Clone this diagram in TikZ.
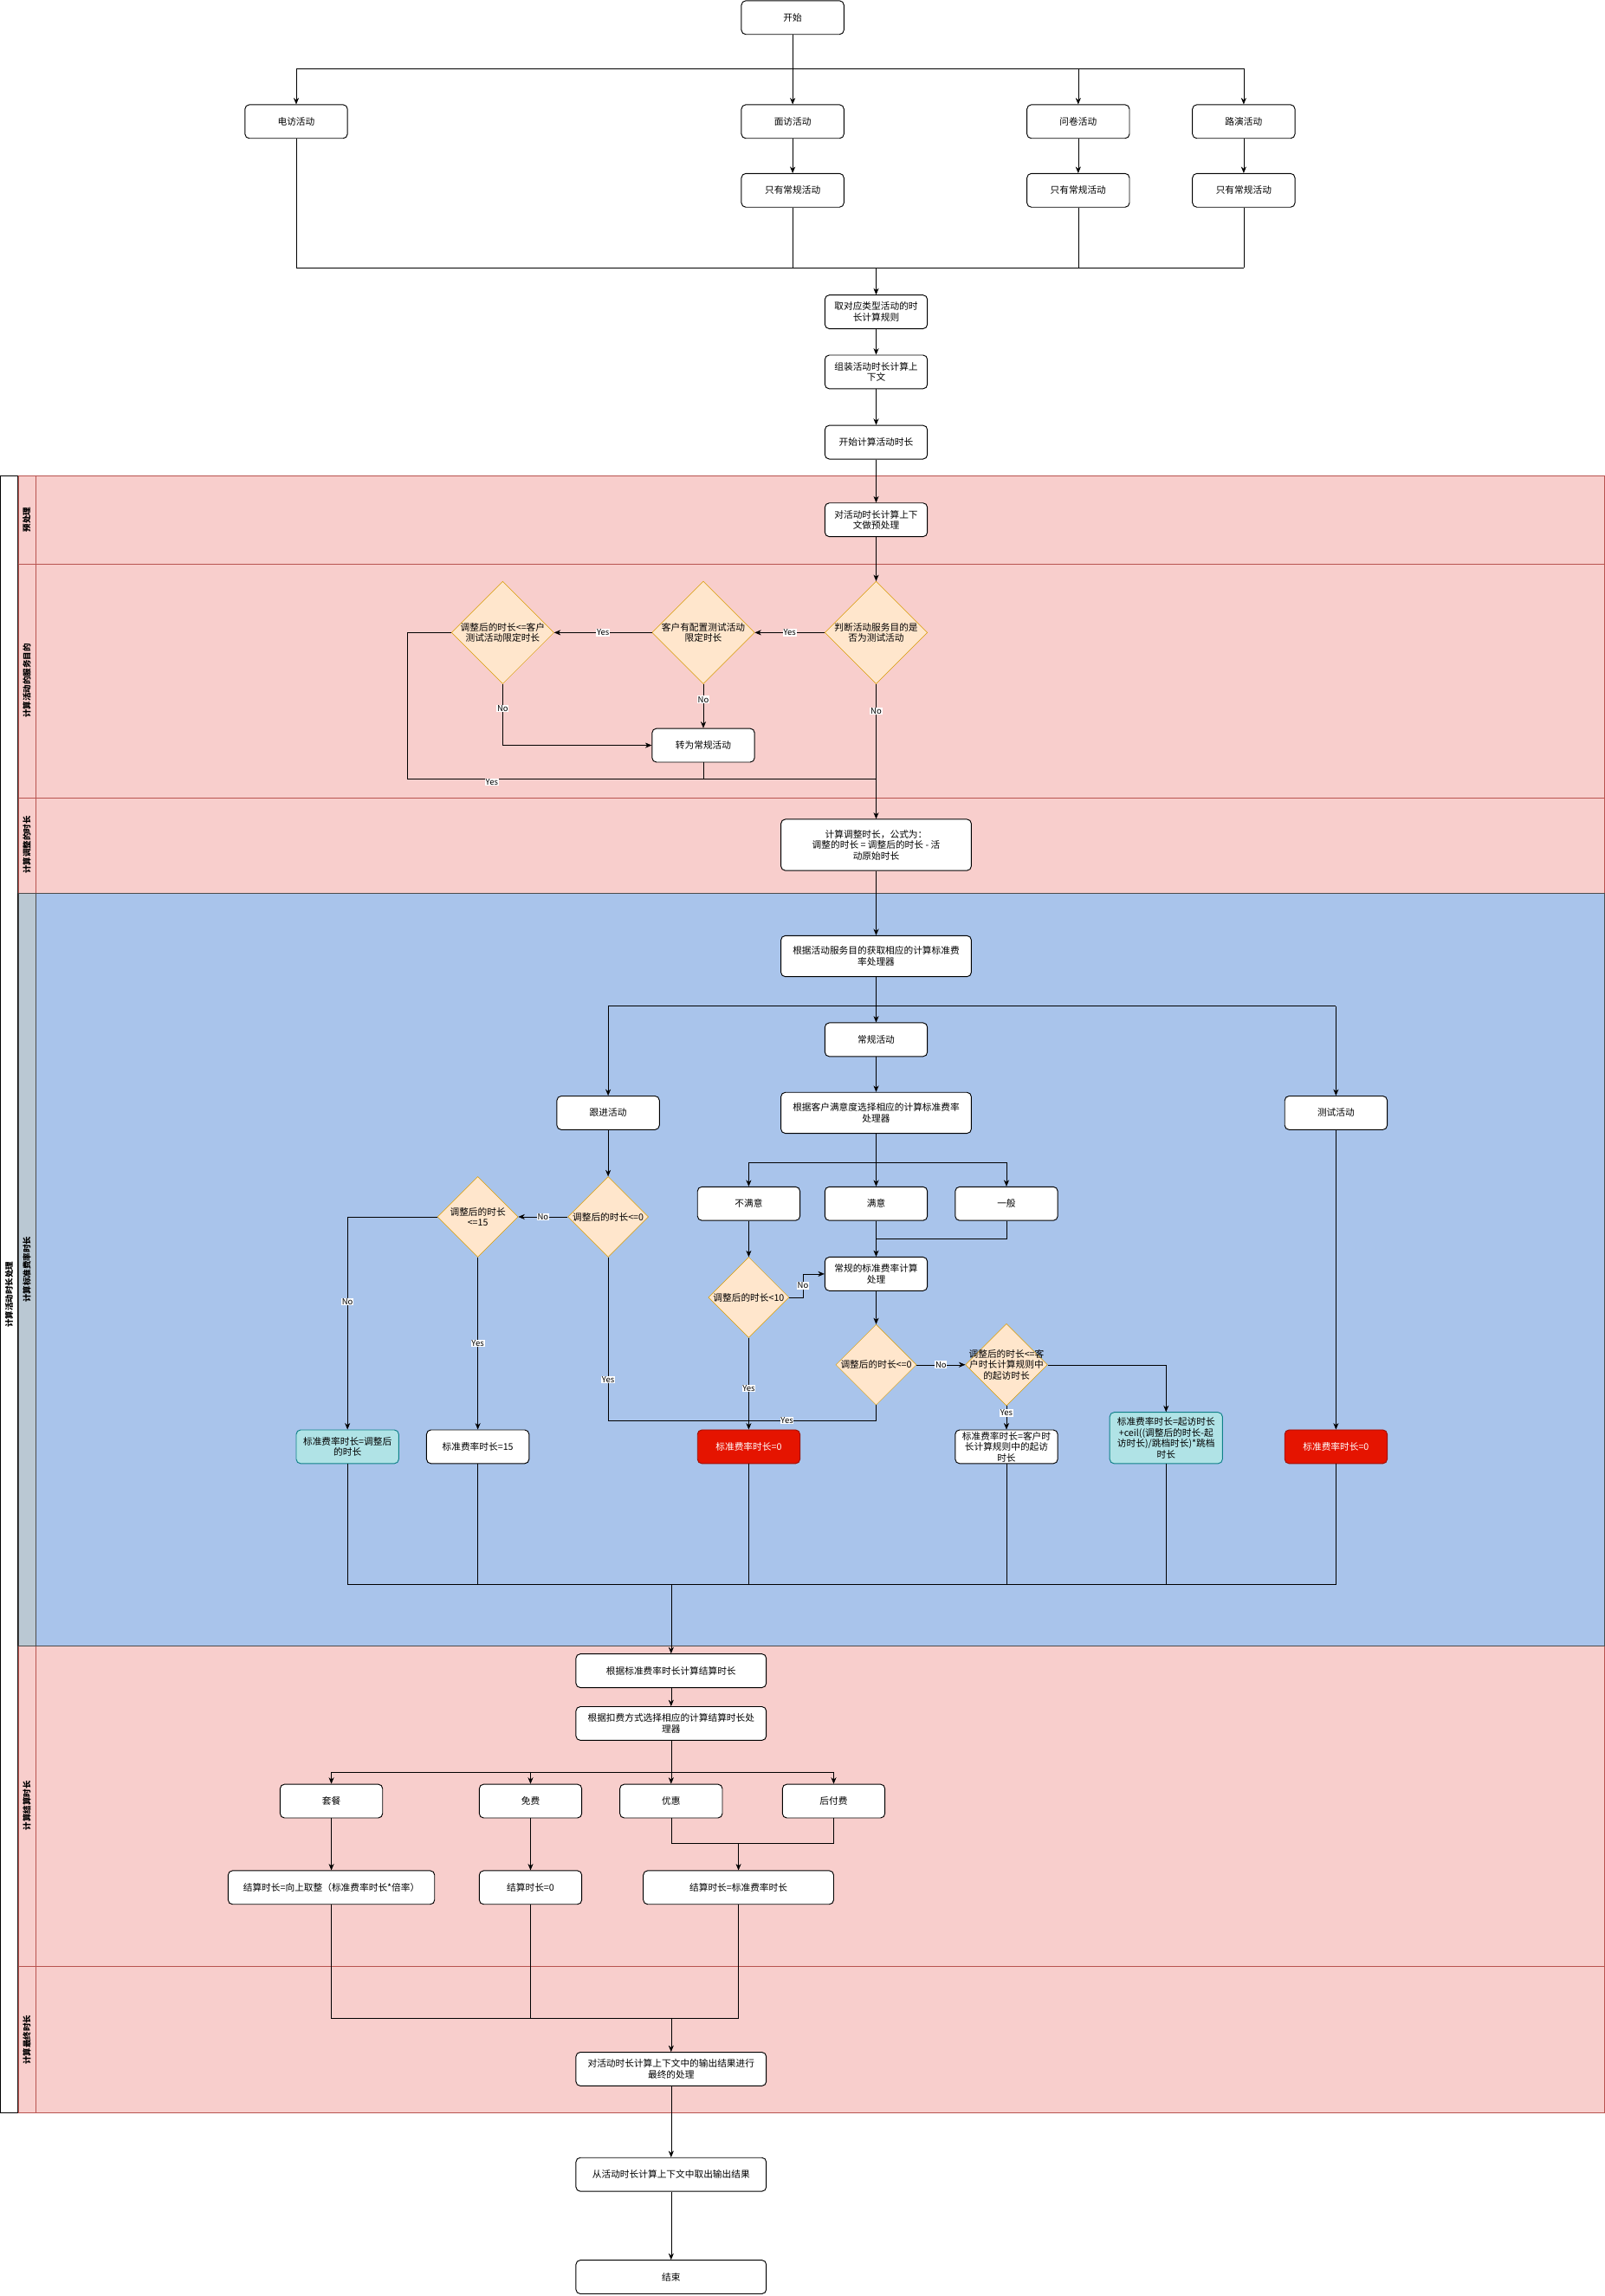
\documentclass[tikz,border=0pt]{standalone}
\usepackage{fontspec}
\setmainfont{Noto Sans CJK SC}
\usetikzlibrary{shapes.geometric,arrows.meta}
\definecolor{lanepink}{HTML}{F8CECC}
\definecolor{laneline}{HTML}{B85450}
\definecolor{laneblue}{HTML}{A9C4EB}
\definecolor{lanegray}{HTML}{BAC8D3}
\definecolor{decfill}{HTML}{FFE6CC}
\definecolor{decline}{HTML}{D79B00}
\definecolor{zerofill}{HTML}{E51400}
\definecolor{cyanfill}{HTML}{B0E3E6}
\definecolor{cyanline}{HTML}{0E8088}
\begin{document}
\begin{tikzpicture}
  [x=0.5mm,y=-0.5mm,font=\fontsize{9}{10.5}\selectfont,
   every label/.style={align=center, inner sep=0pt}]
  \tikzstyle{box} = [draw=black, fill=white, rounded corners=1.5mm, align=center, minimum width=35mm, minimum height=11.5mm, inner sep=1pt, thick]
  \tikzstyle{wide} = [box, minimum width=65mm]
  \tikzstyle{dec} = [diamond, aspect=1, draw=decline, fill=decfill, minimum size=#1, inner sep=0pt]
  \tikzstyle{zero} = [box, fill=zerofill, draw=zerofill!70!black, text=white]
  \tikzstyle{teal} = [box, fill=cyanfill, draw=cyanline]
  \tikzstyle{arr} = [draw=black, -{Stealth[length=2.2mm,width=1.8mm]}]
  \tikzstyle{yn} = [fill=white, inner sep=0.6pt, font=\fontsize{8}{9}\selectfont]
  \tikzstyle{lanetext} = [rotate=90, font=\fontsize{8}{9}\selectfont\bfseries]
  % page and lanes
  \fill[white] (0,0) rectangle (1095,1568);
  \draw[thick] (0,325) rectangle (12,1443);
  \node[lanetext] (t0) at (6,884) {计算活动时长处理};
  \foreach \ya/\yb in {325/385, 385/545, 545/610, 1124/1343, 1343/1443}
    \draw[laneline, fill=lanepink] (12,\ya) rectangle (1095,\yb) (24,\ya) -- (24,\yb);
  \draw[black!70, fill=laneblue] (12,610) rectangle (1095,1124);
  \draw[black!70, fill=lanegray] (12,610) rectangle (24,1124);
  \node[lanetext] (t1) at (18,355) {预处理};
  \node[lanetext] (t2) at (18,465) {计算活动的服务目的};
  \node[lanetext] (t3) at (18,577) {计算调整的时长};
  \node[lanetext] (t4) at (18,867) {计算标准费率时长};
  \node[lanetext] (t5) at (18,1233) {计算结算时长};
  \node[lanetext] (t6) at (18,1393) {计算最终时长};
  % top part
  \node[box] (start) at (541,12) {开始};
  \node[box] (phone) at (202,83) {电访活动};
  \node[box] (face) at (541,83) {面访活动};
  \node[box] (quest) at (736,83) {问卷活动};
  \node[box] (road) at (849,83) {路演活动};
  \node[box] (only1) at (541,130) {只有常规活动};
  \node[box] (only2) at (736,130) {只有常规活动};
  \node[box] (only3) at (849,130) {只有常规活动};
  \node[box] (rule) at (598,213) {取对应类型活动的时\\长计算规则};
  \node[box] (ctx) at (598,254) {组装活动时长计算上\\下文};
  \node[box] (begin) at (598,302) {开始计算活动时长};
  \coordinate (s1) at (202,47);
  \coordinate (s2) at (849,47);
  \coordinate (m1) at (202,183);
  \coordinate (m2) at (849,183);
  \draw (start) -- (start |- s1);
  \draw (s1) -- (s2);
  \foreach \n in {phone,face,quest,road}
    \draw[arr] (\n |- s1) -- (\n);
  \draw[arr] (face) -- (only1);
  \draw[arr] (quest) -- (only2);
  \draw[arr] (road) -- (only3);
  \draw (phone) -- (m1) -- (m2);
  \foreach \n in {only1,only2,only3}
    \draw (\n) -- (\n |- m1);
  \draw[arr] (rule |- m1) -- (rule);
  \draw[arr] (rule) -- (ctx);
  \draw[arr] (ctx) -- (begin);
  % service purpose
  \node[box] (pre) at (598,355) {对活动时长计算上下\\文做预处理};
  \node[dec=35mm, label=center:{判断活动服务目的是\\否为测试活动}] (istest) at (598,432) {};
  \node[dec=35mm, label=center:{客户有配置测试活动\\限定时长}] (hascfg) at (480,432) {};
  \node[dec=35mm, label=center:{调整后的时长<=客户\\测试活动限定时长}] (inlimit) at (343,432) {};
  \node[box] (toreg) at (480,509) {转为常规活动};
  \node[wide, minimum height=17.5mm] (adj) at (598,577) {计算调整时长，公式为：\\\textit{调整的时长 = 调整后的时长 - 活}\\\textit{动原始时长}};
  \coordinate (y1) at (278,432);
  \coordinate (y2) at (278,532);
  \draw[arr] (begin) -- (pre);
  \draw[arr] (pre) -- (istest);
  \draw[arr] (istest) -- node[yn] {Yes} (hascfg);
  \draw[arr] (hascfg) -- node[yn] {Yes} (inlimit);
  \draw[arr] (hascfg) -- node[yn, pos=0.35] {No} (toreg);
  \draw[arr] (inlimit.south) |- node[yn, pos=0.2] {No} (toreg);
  \draw[arr] (istest) -- node[yn, pos=0.2] {No} (adj);
  \draw (inlimit.west) -- (y1) -- (y2) -- node[yn, pos=0.18, below=-1pt] {Yes} (adj |- y2);
  \draw (toreg) -- (toreg |- y2);
  % standard rate
  \node[wide, minimum height=14mm] (getproc) at (598,653) {根据活动服务目的获取相应的计算标准费\\率处理器};
  \node[box] (reg) at (598,710) {常规活动};
  \node[box] (follow) at (415,760) {跟进活动};
  \node[box] (testact) at (912,760) {测试活动};
  \node[wide, minimum height=14mm] (satproc) at (598,760) {根据客户满意度选择相应的计算标准费率\\处理器};
  \node[box] (unsat) at (511,822) {不满意};
  \node[box] (sat) at (598,822) {满意};
  \node[box] (normal) at (687,822) {一般};
  \node[box] (regcalc) at (598,870) {常规的标准费率计算\\处理};
  \node[dec=27.5mm, label=center:{调整后的时长<10}] (lt10) at (511,886) {};
  \node[dec=27.5mm, label=center:{调整后的时长<=0}] (le0a) at (598,932) {};
  \node[dec=28mm, label=center:{调整后的时长<=客\\户时长计算规则中\\的起访时长}] (lestart) at (687,932) {};
  \node[dec=27.5mm, label=center:{调整后的时长<=0}] (le0b) at (415,831) {};
  \node[dec=27.5mm, label=center:{调整后的时长\\<=15}] (le15) at (326,831) {};
  \node[teal] (rateadj) at (237,988) {标准费率时长=调整后\\的时长};
  \node[box] (rate15) at (326,988) {标准费率时长=15};
  \node[zero] (rate0a) at (511,988) {标准费率时长=0};
  \node[box, minimum height=11.5mm] (ratestart) at (687,988) {标准费率时长=客户时\\长计算规则中的起访\\时长};
  \node[teal, minimum width=38.5mm, minimum height=17.5mm] (rateceil) at (796,982) {标准费率时长=起访时长\\+ceil((调整后的时长-起\\访时长)/跳档时长)*跳档\\时长};
  \node[zero] (rate0b) at (912,988) {标准费率时长=0};
  \coordinate (p1) at (415,687);
  \coordinate (p2) at (912,687);
  \coordinate (q1) at (511,794);
  \coordinate (q2) at (687,794);
  \coordinate (z1) at (415,970);
  \coordinate (k1) at (548,870);
  \coordinate (g1) at (237,1082);
  \coordinate (g2) at (912,1082);
  \draw[arr] (adj) -- (getproc);
  \draw (p1) -- (p2);
  \draw[arr] (getproc) -- (reg);
  \draw[arr] (p1) -- (follow);
  \draw[arr] (p2) -- (testact);
  \draw[arr] (reg) -- (satproc);
  \draw (q1) -- (q2);
  \draw[arr] (satproc) -- (sat);
  \draw[arr] (q1) -- (unsat);
  \draw[arr] (q2) -- (normal);
  \draw[arr] (sat) -- (regcalc);
  \draw (normal) |- (sat |- 0,846);
  \draw[arr] (unsat) -- (lt10);
  \draw[arr] (lt10.east) -| node[yn, pos=0.75] {No} (k1) -- (regcalc);
  \draw[arr] (lt10) -- node[yn, pos=0.55] {Yes} (rate0a);
  \draw[arr] (regcalc) -- (le0a);
  \draw (le0a.south) |- node[yn, pos=0.85] {Yes} (rate0a |- z1);
  \draw[arr] (le0a) -- node[yn] {No} (lestart);
  \draw[arr] (lestart) -- node[yn, pos=0.3] {Yes} (ratestart);
  \draw[arr] (lestart.east) -| (rateceil);
  \draw[arr] (testact) -- (rate0b);
  \draw[arr] (follow) -- (le0b);
  \draw[arr] (le0b) -- node[yn] {No} (le15);
  \draw (le0b.south) -- node[yn, pos=0.75] {Yes} (z1) -- (rate0a |- z1);
  \draw[arr] (le15.west) -| node[yn, pos=0.7] {No} (rateadj);
  \draw[arr] (le15) -- node[yn] {Yes} (rate15);
  \draw (rateadj) -- (g1) -- (g2) -- (rate0b);
  \foreach \n in {rate15,rate0a,ratestart}
    \draw (\n) -- (\n |- g1);
  \draw (rateceil.south) -- (rateceil.south |- g1);
  % settlement
  \node[wide] (settle) at (458,1141) {根据标准费率时长计算结算时长};
  \node[wide] (payproc) at (458,1177) {根据扣费方式选择相应的计算结算时长处\\理器};
  \node[box] (pkg) at (226,1230) {套餐};
  \node[box] (free) at (362,1230) {免费};
  \node[box] (promo) at (458,1230) {优惠};
  \node[box] (post) at (569,1230) {后付费};
  \node[box, minimum width=70.5mm] (resceil) at (226,1289) {结算时长=向上取整（标准费率时长*倍率）};
  \node[box] (reszero) at (362,1289) {结算时长=0};
  \node[wide] (resstd) at (504,1289) {结算时长=标准费率时长};
  \node[wide] (final) at (458,1413) {对活动时长计算上下文中的输出结果进行\\最终的处理};
  \node[wide] (fetch) at (458,1485) {从活动时长计算上下文中取出输出结果};
  \node[wide] (stop) at (458,1555) {结束};
  \coordinate (r1) at (226,1210);
  \coordinate (r2) at (569,1210);
  \coordinate (u1) at (458,1259);
  \coordinate (u2) at (569,1259);
  \coordinate (f1) at (226,1378);
  \coordinate (f2) at (504,1378);
  \draw[arr] (settle |- g1) -- (settle);
  \draw[arr] (settle) -- (payproc);
  \draw (r1) -- (r2);
  \draw[arr] (payproc) -- (promo);
  \foreach \n in {pkg,free,post}
    \draw[arr] (\n |- r1) -- (\n);
  \draw[arr] (pkg) -- (resceil);
  \draw[arr] (free) -- (reszero);
  \draw (promo) -- (u1) -- (u2) -- (post);
  \draw[arr] (resstd |- u1) -- (resstd);
  \draw (resceil) -- (f1) -- (f2) -- (resstd);
  \draw (reszero) -- (reszero |- f1);
  \draw[arr] (final |- f1) -- (final);
  \draw[arr] (final) -- (fetch);
  \draw[arr] (fetch) -- (stop);
\end{tikzpicture}
\end{document}
